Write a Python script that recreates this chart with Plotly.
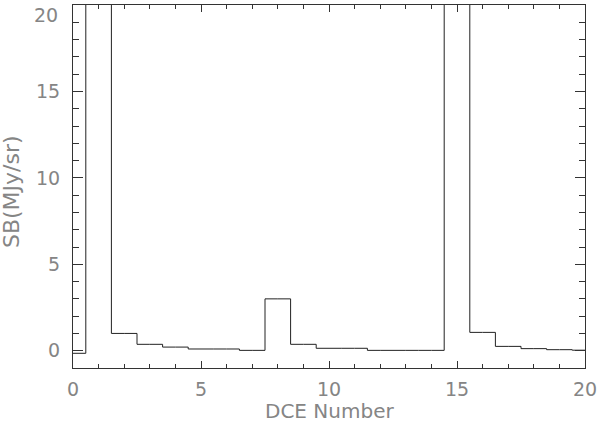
import plotly.graph_objects as go

dce = list(range(0, 21))
sb = [-0.15, 50, 1.0, 0.37, 0.21, 0.1, 0.1, 0.02, 3.0, 0.37, 0.14, 0.14,
      0.02, 0.02, 0.02, 50, 1.06, 0.25, 0.12, 0.06, 0.03]
x_ticks = [0, 5, 10, 15, 20]
y_ticks = [0, 5, 10, 15, 20]
y_labels = ["0", "5", "10", "15", ""]
top_label = "20"

fig = go.Figure()
fig.add_trace(go.Scatter(x=dce, y=sb, mode="lines", line_shape="hvh",
                         line=dict(color="#222222", width=1), showlegend=False,
                         hoverinfo="skip"))

tick_font = dict(family="DejaVu Sans", size=19, color="#858585")
title_font = dict(family="DejaVu Sans", size=20, color="#858585")
ytitle_font = dict(family="DejaVu Sans", size=22, color="#858585")
fig.update_layout(
    width=600, height=428,
    margin=dict(l=73, r=15, t=5, b=60, autoexpand=False),
    paper_bgcolor="white", plot_bgcolor="white",
    xaxis=dict(range=[0, 20], tickvals=x_ticks, ticks="inside", ticklen=7,
               tickcolor="#333333", showline=True, linecolor="#333333", linewidth=1,
               mirror="ticks", showgrid=False, zeroline=False, tickfont=tick_font,
               automargin=False, ticklabelstandoff=4, ticklabeloverflow="allow",
               minor=dict(dtick=1, ticks="inside", ticklen=4, tickcolor="#333333")),
    yaxis=dict(range=[-1, 20], tickvals=y_ticks, ticktext=y_labels, ticks="inside",
               ticklen=10, tickcolor="#333333", showline=True, linecolor="#333333",
               linewidth=1, mirror="ticks", showgrid=False, zeroline=False,
               tickfont=tick_font, automargin=False, ticklabelstandoff=8,
               ticklabeloverflow="allow",
               minor=dict(dtick=1, ticks="inside", ticklen=6, tickcolor="#333333")),
    annotations=[
        dict(text=top_label, xref="paper", yref="paper", x=-0.025, y=0.972,
             showarrow=False, font=tick_font, xanchor="right", yanchor="middle"),
        dict(text="DCE Number", xref="paper", yref="paper", x=0.5, y=-0.118,
             showarrow=False, font=title_font, xanchor="center", yanchor="middle"),
        dict(text="SB(MJy/sr)", xref="paper", yref="paper", x=-0.119, y=0.485,
             showarrow=False, font=ytitle_font, textangle=-90,
             xanchor="center", yanchor="middle"),
    ],
)
fig.write_html("out.html", config={"displayModeBar": False},
               post_script="document.body.style.margin='0px';")
